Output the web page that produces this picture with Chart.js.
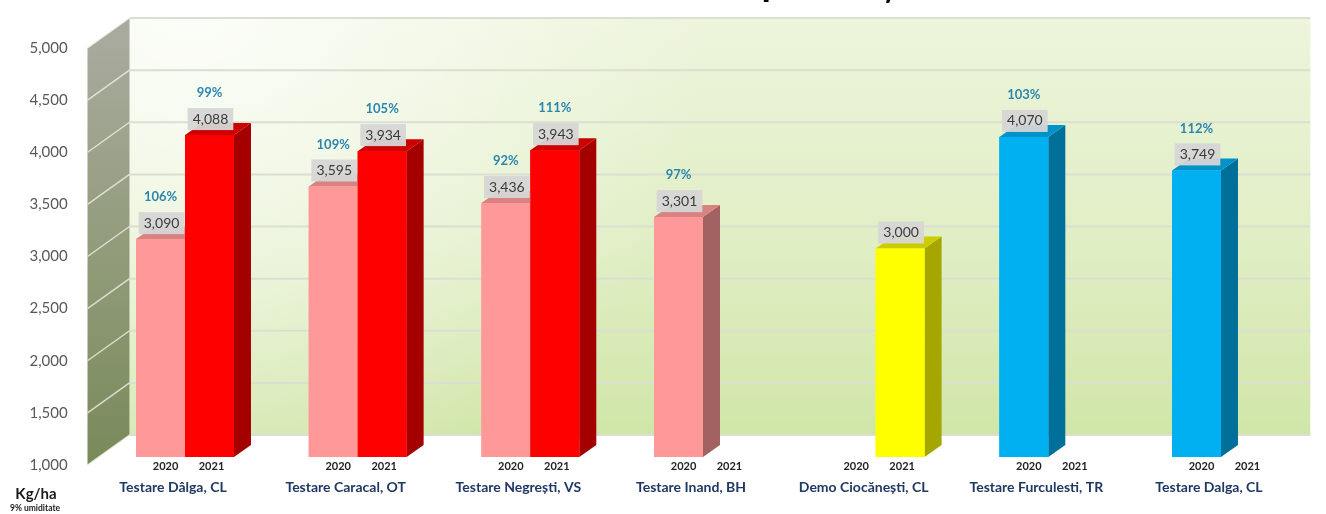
<!DOCTYPE html>
<html>
<head>
<meta charset="utf-8">
<script src="https://cdn.jsdelivr.net/npm/chart.js@4.4.0/dist/chart.umd.min.js"></script>
<style>
  html, body { margin: 0; padding: 0; background: #fff; }
</style>
</head>
<body>
<canvas id="yieldChart" width="1326" height="514"></canvas>
<script>
const categories = [
  "Testare Dâlga, CL",
  "Testare Caracal, OT",
  "Testare Negrești, VS",
  "Testare Inand, BH",
  "Demo Ciocănești, CL",
  "Testare Furculesti, TR",
  "Testare Dalga, CL",
];
const years = ["2020", "2021"];
const yield2020 = [3090, 3595, 3436, 3301, null, 4070, 3749];
const yield2021 = [4088, 3934, 3943, null, 3000, null, null];
const pct2020 = [106, 109, 92, 97, null, 103, 112];
const pct2021 = [99, 105, 111, null, null, null, null];
const colors2020 = ["#FF9999", "#FF9999", "#FF9999", "#FF9999", "#FF9999", "#00B0F0", "#00B0F0"];
const colors2021 = ["#FF0000", "#FF0000", "#FF0000", "#FF0000", "#FFFF00", "#FF0000", "#FF0000"];
const titleText = "Rezultatele de producție";

// darker faces for the fake 3d look
const shades = {
  "#FF9999": { side: "#A26262", top: "#D98282" },
  "#FF0000": { side: "#A50000", top: "#CC0000" },
  "#FFFF00": { side: "#A6A600", top: "#CCCC00" },
  "#00B0F0": { side: "#006F99", top: "#0092C8" },
};

const BACK = 22;
const FRONT = 8;
const SLOPE = 1.4;
const BAR_DX = 17;
const BAR_DY = 12;

const ctx = document.getElementById("yieldChart").getContext("2d");

const poly = (c, pts, color) => {
  c.beginPath();
  c.moveTo(pts[0][0], pts[0][1]);
  for (let i = 1; i < pts.length; i++) c.lineTo(pts[i][0], pts[i][1]);
  c.closePath();
  c.fillStyle = color;
  c.fill();
};

const walls = {
  id: "walls",
  beforeDatasetsDraw(chart) {
    const { ctx: c, chartArea, scales } = chart;
    const y = scales.y;
    const yTop = y.getPixelForValue(y.max);
    const yBot = y.getPixelForValue(y.min);
    const backL = chartArea.left + BACK * SLOPE;
    const backR = chartArea.right + 3;
    const frontL = chartArea.left - FRONT * SLOPE;
    c.save();

    // back wall
    let g = c.createLinearGradient(0, yTop - BACK, 0, yBot - BACK);
    g.addColorStop(0, "#EDF5DC");
    g.addColorStop(0.55, "#E0EEC4");
    g.addColorStop(1, "#D0E6A8");
    c.fillStyle = g;
    c.fillRect(backL, yTop - BACK, backR - backL, yBot - yTop);
    const rg = c.createRadialGradient(backL + 60, yTop - BACK, 10, backL + 60, yTop - BACK, 520);
    rg.addColorStop(0, "rgba(255,255,255,0.8)");
    rg.addColorStop(1, "rgba(255,255,255,0)");
    c.fillStyle = rg;
    c.fillRect(backL, yTop - BACK, backR - backL, yBot - yTop);

    // left wall
    g = c.createLinearGradient(0, yTop, 0, yBot);
    g.addColorStop(0, "#A8AA9D");
    g.addColorStop(0.5, "#929C7B");
    g.addColorStop(1, "#7A8A5B");
    poly(c, [[frontL, yTop + FRONT], [backL, yTop - BACK], [backL, yBot - BACK], [frontL, yBot + FRONT]], g);

    // grid lines
    y.ticks.forEach((t) => {
      const py = y.getPixelForValue(t.value);
      c.strokeStyle = "#DADFD2";
      c.lineWidth = 2;
      c.beginPath();
      c.moveTo(backL, py - BACK);
      c.lineTo(backR, py - BACK);
      c.stroke();
      c.strokeStyle = "rgba(238,240,232,0.8)";
      c.lineWidth = 1.5;
      c.beginPath();
      c.moveTo(frontL, py + FRONT);
      c.lineTo(backL, py - BACK);
      c.stroke();
    });
    c.restore();
  },
};

const bars3d = {
  id: "bars3d",
  afterDatasetsDraw(chart) {
    const c = chart.ctx;
    const sets = chart.data.datasets;
    c.save();
    categories.forEach((cat, i) => {
      sets.forEach((ds, d) => {
        if (ds.data[i] == null) return;
        const bar = chart.getDatasetMeta(d).data[i];
        const { x, y, base, width } = bar.getProps(["x", "y", "base", "width"], true);
        const l = x - width / 2;
        const r = x + width / 2;
        const front = ds.backgroundColor[i];
        const sh = shades[front];
        poly(c, [[r, y], [r + BAR_DX, y - BAR_DY], [r + BAR_DX, base - BAR_DY], [r, base]], sh.side);
        poly(c, [[l, y], [l + BAR_DX, y - BAR_DY], [r + BAR_DX, y - BAR_DY], [r, y]], sh.top);
        c.fillStyle = front;
        c.fillRect(l, y, width, base - y);
      });
    });

    // labels above the bars
    const pcts = [pct2020, pct2021];
    c.textAlign = "center";
    c.textBaseline = "middle";
    sets.forEach((ds, d) => {
      const meta = chart.getDatasetMeta(d);
      ds.data.forEach((v, i) => {
        const bar = meta.data[i];
        const { x, y } = bar.getProps(["x", "y"], true);
        c.font = "bold 11px Lato";
        c.fillStyle = "#222222";
        c.fillText(years[d], x + (d == 0 ? 5 : 2), 466);
        if (v == null) return;
        c.font = "14px Lato";
        const txt = v.toLocaleString("en-US");
        const w = c.measureText(txt).width + 10;
        c.fillStyle = "rgba(214,214,214,0.95)";
        c.fillRect(x + 1 - w / 2, y - 27, w, 22);
        c.fillStyle = "#3A3A3A";
        c.fillText(txt, x + 1, y - 16);
        if (pcts[d][i] != null) {
          c.font = "bold 13px Lato";
          c.fillStyle = "#2B87AE";
          c.fillText(pcts[d][i] + "%", x, y - 42);
        }
      });
    });
    c.restore();
  },
  afterDraw(chart) {
    const c = chart.ctx;
    c.save();
    c.textAlign = "center";
    c.textBaseline = "middle";
    c.fillStyle = "#1A1A1A";
    c.font = "bold 15px Lato";
    c.fillText("Kg/ha", 36, 494);
    c.font = "bold 8.5px Lato";
    c.fillText("9% umiditate", 35, 508);
    c.font = "bold 38px Lato";
    c.textBaseline = "alphabetic";
    c.fillStyle = "#000000";
    c.fillText(titleText, 718, -4);
    c.restore();
  },
};

const yieldChart = new Chart(ctx, {
  type: "bar",
  data: {
    labels: categories,
    datasets: [
      { label: years[0], data: yield2020, backgroundColor: colors2020, base: 1000 },
      { label: years[1], data: yield2021, backgroundColor: colors2021, base: 1000 },
    ],
  },
  options: {
    responsive: false,
    animation: false,
    categoryPercentage: 0.567,
    barPercentage: 1,
    layout: { padding: { top: 34.6, right: 18.7, left: 0, bottom: 0 } },
    plugins: {
      legend: { display: false },
      tooltip: { enabled: false },
    },
    scales: {
      x: {
        grid: { display: false, drawTicks: false },
        border: { display: false },
        ticks: {
          color: "#1F3864",
          font: { family: "Lato", size: 14, weight: "bold" },
          padding: 22,
          labelOffset: -12,
          maxRotation: 0,
          autoSkip: false,
        },
        afterFit: (scale) => {
          scale.height = 57;
        },
      },
      y: {
        min: 1000,
        max: 5000,
        grid: { display: false, drawTicks: false },
        border: { display: false },
        ticks: {
          stepSize: 500,
          color: "#595959",
          font: { family: "Lato", size: 15 },
          padding: 31,
          labelOffset: 8,
          callback: (v) => v.toLocaleString("en-US"),
        },
        afterFit: (scale) => {
          scale.width = 98.7;
        },
      },
    },
  },
  plugins: [walls, bars3d],
});
</script>
</body>
</html>
